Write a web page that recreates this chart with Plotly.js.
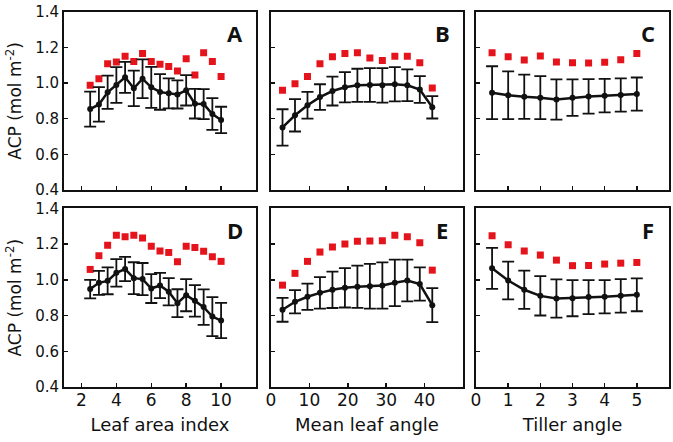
<!DOCTYPE html>
<html>
<head>
<meta charset="utf-8">
<script src="https://cdn.plot.ly/plotly-3.0.1.min.js"></script>
<style>html,body{margin:0;padding:0;background:#fff;}#chart{width:673px;height:442px;}</style>
</head>
<body>
<div id="chart"></div>
<script>
// ---- Data ----
const laiX = [2.5, 3, 3.5, 4, 4.5, 5, 5.5, 6, 6.5, 7, 7.5, 8, 8.5, 9, 9.5, 10];
const angleX = [3, 6.25, 9.5, 12.75, 16, 19.25, 22.5, 25.75, 29, 32.25, 35.5, 38.75, 42];
const tillerX = [0.5, 1, 1.5, 2, 2.5, 3, 3.5, 4, 4.5, 5];

// Panel A
const aMean = [0.854, 0.880, 0.948, 0.989, 1.032, 0.970, 1.024, 0.976, 0.950, 0.942, 0.936, 0.959, 0.884, 0.882, 0.826, 0.793];
const aErr  = [0.098, 0.097, 0.093, 0.100, 0.087, 0.100, 0.109, 0.115, 0.100, 0.084, 0.079, 0.085, 0.083, 0.084, 0.089, 0.074];
const aRed  = [0.987, 1.024, 1.108, 1.118, 1.150, 1.121, 1.166, 1.120, 1.105, 1.092, 1.067, 1.136, 1.045, 1.170, 1.121, 1.036];
// Panel B
const bMean = [0.751, 0.819, 0.875, 0.921, 0.955, 0.976, 0.987, 0.989, 0.987, 0.993, 0.987, 0.964, 0.864];
const bErr  = [0.102, 0.091, 0.075, 0.072, 0.081, 0.085, 0.093, 0.095, 0.097, 0.096, 0.089, 0.075, 0.063];
const bRed  = [0.959, 0.996, 1.036, 1.108, 1.148, 1.166, 1.170, 1.140, 1.127, 1.150, 1.150, 1.114, 0.972];
// Panel C
const cMean = [0.946, 0.931, 0.923, 0.918, 0.908, 0.918, 0.925, 0.929, 0.933, 0.938];
const cErr  = [0.148, 0.134, 0.124, 0.121, 0.113, 0.102, 0.097, 0.094, 0.093, 0.093];
const cRed  = [1.170, 1.148, 1.129, 1.151, 1.118, 1.114, 1.112, 1.116, 1.131, 1.166];
// Panel D
const dMean = [0.948, 0.983, 0.994, 1.039, 1.060, 1.009, 1.004, 0.951, 0.968, 0.933, 0.869, 0.914, 0.882, 0.847, 0.794, 0.772];
const dErr  = [0.052, 0.067, 0.075, 0.077, 0.068, 0.089, 0.090, 0.081, 0.071, 0.076, 0.078, 0.090, 0.088, 0.099, 0.109, 0.099];
const dRed  = [1.058, 1.135, 1.193, 1.249, 1.241, 1.249, 1.234, 1.187, 1.161, 1.153, 1.101, 1.187, 1.181, 1.159, 1.129, 1.103];
// Panel E
const eMean = [0.832, 0.877, 0.905, 0.927, 0.944, 0.955, 0.961, 0.964, 0.968, 0.983, 0.996, 0.976, 0.858];
const eErr  = [0.067, 0.065, 0.073, 0.088, 0.102, 0.110, 0.118, 0.125, 0.129, 0.130, 0.117, 0.093, 0.095];
const eRed  = [0.970, 1.036, 1.103, 1.155, 1.183, 1.200, 1.215, 1.217, 1.219, 1.249, 1.241, 1.207, 1.054];
// Panel F
const fMean = [1.064, 0.996, 0.944, 0.910, 0.895, 0.897, 0.903, 0.905, 0.910, 0.916];
const fErr  = [0.115, 0.106, 0.107, 0.110, 0.107, 0.101, 0.095, 0.093, 0.094, 0.092];
const fRed  = [1.247, 1.196, 1.161, 1.138, 1.110, 1.079, 1.080, 1.088, 1.093, 1.097];

const panelLetters = ['A', 'B', 'C', 'D', 'E', 'F'];
const xTitles = ['Leaf area index', 'Mean leaf angle', 'Tiller angle'];
const yTitle = 'ACP (mol m<sup>-2</sup>)';
const yTickVals = [0.4, 0.6, 0.8, 1.0, 1.2, 1.4];
const yTickText = ['0.4', '0.6', '0.8', '1.0', '1.2', '1.4'];
const laiTicks = [2, 4, 6, 8, 10];
const angleTicks = [0, 10, 20, 30, 40];
const tillerTicks = [0, 1, 2, 3, 4, 5];

// ---- Build ----
const panels = [
  {x: laiX, m: aMean, e: aErr, r: aRed},
  {x: angleX, m: bMean, e: bErr, r: bRed},
  {x: tillerX, m: cMean, e: cErr, r: cRed},
  {x: laiX, m: dMean, e: dErr, r: dRed},
  {x: angleX, m: eMean, e: eErr, r: eRed},
  {x: tillerX, m: fMean, e: fErr, r: fRed}
];
const W = 673, H = 442;
const colPx = [[64, 256], [271, 463], [476, 669]];
const rowPx = [[11.7, 190], [208.3, 387]];
const xRanges = [[1, 12], [0, 50], [0, 6]];
const xTicks = [laiTicks, angleTicks, tillerTicks];

const BLACK = '#111111';
const RED = '#e5141c';
const FONT = 'DejaVu Sans, sans-serif';

const traces = [];
const layout = {
  width: W, height: H,
  margin: {l: 0, r: 0, t: 0, b: 0},
  paper_bgcolor: '#fff', plot_bgcolor: '#fff',
  showlegend: false,
  font: {family: FONT, color: '#111'},
  annotations: []
};

panels.forEach((p, i) => {
  const n = i + 1;
  const xa = 'x' + (n === 1 ? '' : n), ya = 'y' + (n === 1 ? '' : n);
  const col = i % 3, row = Math.floor(i / 3);
  traces.push({
    x: p.x, y: p.r, xaxis: xa, yaxis: ya, type: 'scatter', mode: 'markers',
    marker: {symbol: 'square', size: 7, color: RED}, hoverinfo: 'skip'
  });
  traces.push({
    x: p.x, y: p.m, xaxis: xa, yaxis: ya, type: 'scatter', mode: 'lines+markers',
    line: {color: BLACK, width: 2.5},
    marker: {size: 6, color: BLACK},
    error_y: {type: 'data', array: p.e, visible: true, color: BLACK, thickness: 1.8, width: 6}
  });
  const xKey = 'xaxis' + (n === 1 ? '' : n), yKey = 'yaxis' + (n === 1 ? '' : n);
  layout[xKey] = {
    domain: [colPx[col][0] / W, colPx[col][1] / W],
    anchor: ya, range: xRanges[col],
    tickmode: 'array', tickvals: xTicks[col],
    showticklabels: row === 1,
    ticks: 'inside', ticklen: 4, tickwidth: 1.5, tickcolor: BLACK,
    showline: true, linecolor: BLACK, linewidth: 2, mirror: true,
    showgrid: false, zeroline: false,
    ticklabelstandoff: -3,
    tickfont: {family: FONT, size: 17, color: '#111'}
  };
  if (row === 1) {
    layout[xKey].title = {text: xTitles[col], font: {family: FONT, size: 18, color: '#111'}, standoff: 9};
  }
  layout[yKey] = {
    domain: [1 - rowPx[row][1] / H, 1 - rowPx[row][0] / H],
    anchor: xa, range: [0.4, 1.4],
    tickmode: 'array', tickvals: yTickVals, ticktext: yTickText,
    showticklabels: col === 0,
    ticks: 'inside', ticklen: 4, tickwidth: 1.5, tickcolor: BLACK,
    showline: true, linecolor: BLACK, linewidth: 2, mirror: true,
    showgrid: false, zeroline: false,
    tickfont: {family: FONT, size: 15, color: '#111'}
  };
  if (col === 0) {
    layout[yKey].title = {text: yTitle, font: {family: FONT, size: 17, color: '#111'}, standoff: 9};
  }
  layout.annotations.push({
    text: '<b>' + panelLetters[i] + '</b>', xref: xa + ' domain', yref: ya + ' domain',
    x: 0.893, y: 0.878, xanchor: 'center', yanchor: 'middle', showarrow: false,
    font: {family: 'Open Sans, sans-serif', size: 22, color: '#111'}
  });
});

Plotly.newPlot('chart', traces, layout, {staticPlot: true, displayModeBar: false});
</script>
</body>
</html>
